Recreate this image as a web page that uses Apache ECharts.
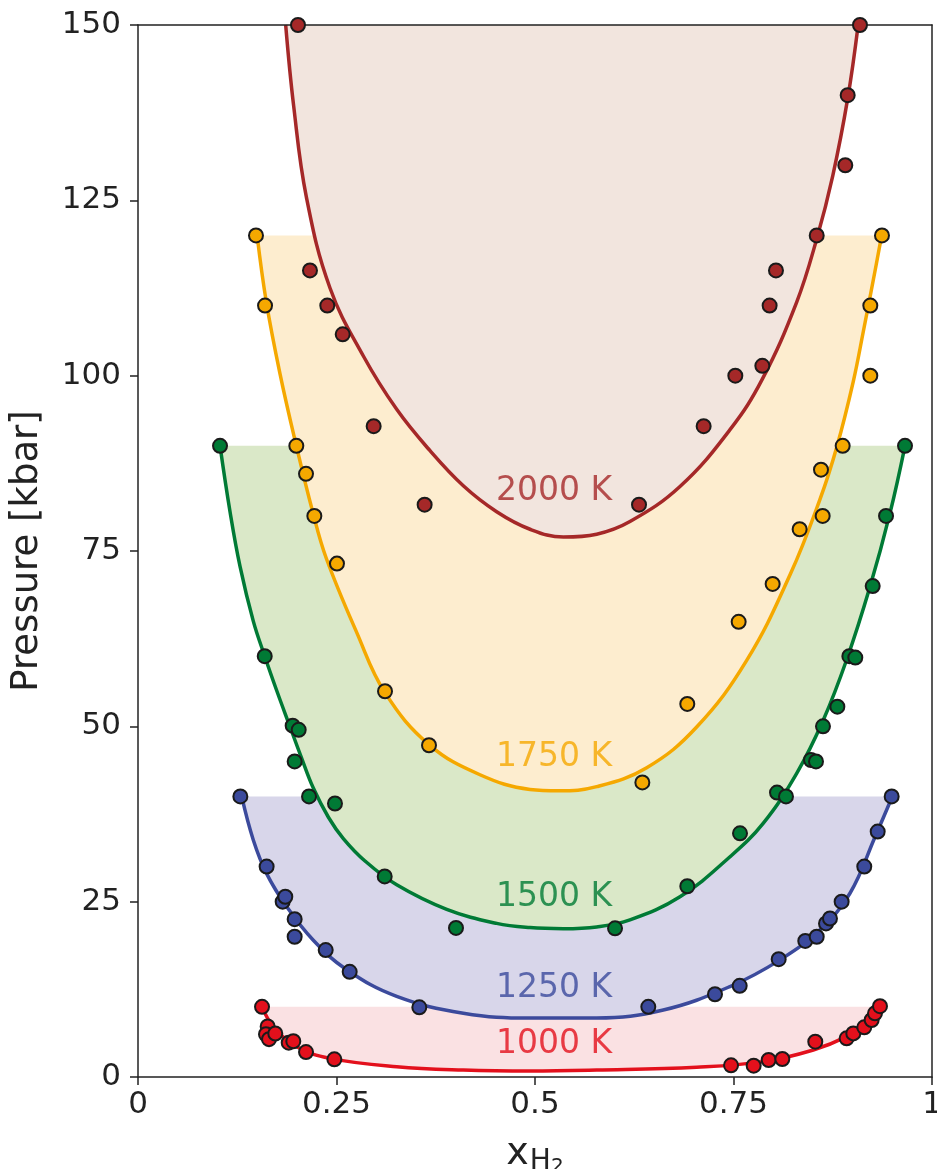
<!DOCTYPE html>
<html>
<head>
<meta charset="utf-8">
<script src="https://cdn.jsdelivr.net/npm/echarts@6/dist/echarts.min.js"></script>
<style>
html,body{margin:0;padding:0;background:#fff;}
#chart{width:937px;height:1169px;}
</style>
</head>
<body>
<div id="chart"></div>
<script>
// ---------- data ----------
const temps = ['1000 K', '1250 K', '1500 K', '1750 K', '2000 K'];
const topPressure = [10, 40, 90, 120, 150];
const labelX = [0.451, 0.451, 0.451, 0.451, 0.451];
const labelP = [4.7, 12.7, 25.6, 45.5, 83.5];
const xTicks = [0, 0.25, 0.5, 0.75, 1];
const yTicks = [0, 25, 50, 75, 100, 125, 150];

// fitted curves
const curve1000x = [0.1562, 0.1704, 0.1999, 0.2418, 0.3258, 0.4097, 0.4937, 0.5777, 0.7036, 0.7876, 0.8505, 0.8925, 0.9177, 0.9345];
const curve1000p = [10, 7.2, 4.3, 2.66, 1.47, 1.0, 0.86, 1.0, 1.4, 2.19, 3.85, 5.75, 7.66, 10];
const curve1250x = [0.1306, 0.1452, 0.162, 0.1872, 0.2208, 0.2628, 0.3258, 0.4097, 0.4937, 0.5777, 0.6616, 0.7456, 0.8086, 0.8589, 0.8967, 0.9285, 0.950];
const curve1250p = [40, 33.8, 29.0, 24.3, 19.5, 15.3, 11.5, 9.1, 8.4, 8.4, 9.55, 12.9, 16.7, 21.0, 26.2, 34.3, 40];
const curve1500x = [0.1033, 0.1159, 0.1285, 0.1452, 0.1596, 0.1750, 0.1906, 0.2050, 0.2208, 0.2400, 0.2586, 0.2859, 0.3258, 0.3888, 0.4517, 0.4937, 0.5357, 0.5777, 0.6196, 0.6826, 0.7456, 0.7876, 0.8296, 0.8631, 0.8925, 0.9219, 0.9471, 0.966];
const curve1500p = [90, 80.6, 72.8, 65.0, 60.0, 55.0, 50.2, 45.8, 41.2, 37.0, 34.0, 30.8, 27.4, 23.9, 21.9, 21.3, 21.15, 21.4, 22.4, 25.7, 31.4, 36.2, 43.3, 50.9, 59.5, 69.9, 80.4, 90];
const curve1750x = [0.150, 0.1616, 0.1788, 0.1994, 0.2200, 0.2370, 0.2754, 0.3111, 0.3665, 0.4307, 0.4937, 0.5300, 0.5777, 0.6407, 0.7036, 0.7666, 0.8212, 0.859, 0.880, 0.9009, 0.9135, 0.926, 0.9366];
const curve1750p = [120, 110.5, 100.3, 90, 80.6, 74.0, 63.4, 54.8, 47.4, 43.1, 41.0, 40.8, 41.4, 44.1, 49.9, 59.4, 71.6, 82.4, 89.8, 99.2, 106.3, 113.6, 120];
const curve2000x = [0.186, 0.196, 0.212, 0.2418, 0.2838, 0.3258, 0.3678, 0.4097, 0.4517, 0.4937, 0.5357, 0.5777, 0.6196, 0.6826, 0.7456, 0.7863, 0.8296, 0.8548, 0.875, 0.8938, 0.907];
const curve2000p = [150, 138.5, 125.5, 112.5, 102.8, 95.2, 89.3, 84.3, 80.6, 78.1, 77.0, 77.4, 79.2, 84.2, 92.3, 99.5, 110.5, 119.5, 128.5, 139.5, 150];

// simulation points
const pts1000x = [0.1562, 0.1633, 0.1612, 0.165, 0.1729, 0.1898, 0.1956, 0.2116, 0.2473, 0.7469, 0.7754, 0.7943, 0.8115, 0.853, 0.8925, 0.9009, 0.9147, 0.924, 0.9282, 0.9345];
const pts1000p = [10.0, 7.2, 6.1, 5.4, 6.2, 4.9, 5.1, 3.56, 2.52, 1.66, 1.61, 2.42, 2.57, 5.04, 5.51, 6.22, 7.08, 8.13, 9.08, 10.1];
const pts1250x = [0.1289, 0.162, 0.1822, 0.1855, 0.1973, 0.1973, 0.2364, 0.2666, 0.3543, 0.6427, 0.7267, 0.7578, 0.8069, 0.8404, 0.8548, 0.8665, 0.8715, 0.8862, 0.9147, 0.9316, 0.9492];
const pts1250p = [40, 30, 25, 25.7, 22.5, 20, 18.1, 15, 9.93, 10, 11.8, 13, 16.8, 19.4, 20, 21.9, 22.6, 25, 30, 35, 40];
const pts1500x = [0.1033, 0.1596, 0.1948, 0.2024, 0.1973, 0.2154, 0.2481, 0.3107, 0.4005, 0.6008, 0.6918, 0.7582, 0.8048, 0.8161, 0.8476, 0.8539, 0.8627, 0.8808, 0.8959, 0.9034, 0.9253, 0.9421, 0.966];
const pts1500p = [90, 60, 50.1, 49.5, 45, 40, 39, 28.6, 21.25, 21.2, 27.2, 34.75, 40.55, 40, 45.2, 45, 50, 52.8, 60, 59.8, 70, 80, 90];
const pts1750x = [0.1486, 0.160, 0.1994, 0.2116, 0.2221, 0.2506, 0.3111, 0.3665, 0.6352, 0.6918, 0.7565, 0.7993, 0.8333, 0.8623, 0.8602, 0.8875, 0.9223, 0.9223, 0.937];
const pts1750p = [120, 110, 90, 86, 80, 73.2, 55, 47.3, 42, 53.2, 64.9, 70.3, 78.1, 80, 86.6, 90, 100, 110, 120];
const pts2000x = [0.2015, 0.2166, 0.2384, 0.2578, 0.2968, 0.361, 0.631, 0.7124, 0.7523, 0.7863, 0.7955, 0.8035, 0.8548, 0.8908, 0.8938, 0.9093];
const pts2000p = [150, 115, 110, 105.9, 92.8, 81.6, 81.6, 92.8, 100, 101.4, 110, 115, 120, 130, 140, 150];

// ---------- styles ----------
const lineColors = ['#e3101c', '#3b4a9c', '#007a35', '#f5a800', '#a52828'];
const fillColors = ['#fae1e3', '#d8d6ea', '#dae8c8', '#fdedcf', '#f2e5de'];

const curvesX = [curve1000x, curve1250x, curve1500x, curve1750x, curve2000x];
const curvesP = [curve1000p, curve1250p, curve1500p, curve1750p, curve2000p];
const ptsX = [pts1000x, pts1250x, pts1500x, pts1750x, pts2000x];
const ptsP = [pts1000p, pts1250p, pts1500p, pts1750p, pts2000p];

const zip = (a, b) => a.map((v, i) => [v, b[i]]);
const FONT = 'DejaVu Sans';

const series = [];
temps.forEach((t, i) => {
  series.push({
    type: 'line',
    name: t + ' fit',
    data: zip(curvesX[i], curvesP[i]),
    smooth: 0.4,
    showSymbol: false,
    symbol: 'none',
    clip: false,
    lineStyle: { color: lineColors[i], width: 3.5 },
    areaStyle: { color: fillColors[i], opacity: 1, origin: topPressure[i] },
    z: 2,
    silent: true
  });
});
temps.forEach((t, i) => {
  series.push({
    type: 'scatter',
    name: t,
    data: zip(ptsX[i], ptsP[i]),
    symbolSize: 14,
    clip: false,
    itemStyle: { color: lineColors[i], borderColor: '#1a1a1a', borderWidth: 2, opacity: 1 },
    z: 30
  });
});
series.push({
  type: 'scatter',
  name: 'labels',
  data: temps.map((t, i) => ({ name: t, value: [labelX[i], labelP[i]],
    label: { color: lineColors[i] } })),
  symbolSize: 0,
  z: 25,
  silent: true,
  label: {
    show: true,
    position: 'inside',
    align: 'left',
    verticalAlign: 'middle',
    formatter: p => p.name,
    fontFamily: FONT,
    fontSize: 33
  }
});

const axisCommon = {
  axisLine: { show: true, onZero: false, lineStyle: { color: '#222', width: 1.5 } },
  splitLine: { show: false },
  z: 10
};

const chart = echarts.init(document.getElementById('chart'), null, { renderer: 'canvas' });
chart.setOption({
  animation: false,
  backgroundColor: '#ffffff',
  grid: { left: 138, right: 5, top: 25, bottom: 92, containLabel: false, outerBoundsMode: 'none' },
  xAxis: [
    Object.assign({}, axisCommon, {
      type: 'value', min: xTicks[0], max: xTicks[xTicks.length - 1], interval: 0.25,
      position: 'bottom',
      axisTick: { show: true, inside: false, length: 8, lineStyle: { color: '#222', width: 1.5 } },
      axisLabel: { fontFamily: FONT, fontSize: 31, color: '#222', margin: 12,
        formatter: v => String(v) },
      name: '{x|x}{h|H}{t|2}',
      nameLocation: 'middle',
      nameGap: 58,
      nameTextStyle: {
        rich: {
          x: { fontFamily: FONT, fontSize: 38, color: '#222', verticalAlign: 'top', lineHeight: 44 },
          h: { fontFamily: FONT, fontSize: 28, color: '#222', verticalAlign: 'top', lineHeight: 44, padding: [13, 0, 0, 1] },
          t: { fontFamily: FONT, fontSize: 20, color: '#222', verticalAlign: 'top', lineHeight: 44, padding: [22, 0, 0, 0] }
        }
      }
    }),
    Object.assign({}, axisCommon, {
      type: 'value', min: 0, max: 1, position: 'top',
      axisTick: { show: false }, axisLabel: { show: false }
    })
  ],
  yAxis: [
    Object.assign({}, axisCommon, {
      type: 'value', min: yTicks[0], max: yTicks[yTicks.length - 1], interval: 25,
      position: 'left',
      axisTick: { show: true, inside: false, length: 8, lineStyle: { color: '#222', width: 1.5 } },
      axisLabel: { fontFamily: FONT, fontSize: 31, color: '#222', margin: 17 },
      name: 'Pressure [kbar]',
      nameLocation: 'middle',
      nameGap: 92,
      nameTextStyle: { fontFamily: FONT, fontSize: 37, color: '#222' }
    }),
    Object.assign({}, axisCommon, {
      type: 'value', min: 0, max: 150, position: 'right',
      axisTick: { show: false }, axisLabel: { show: false }
    })
  ],
  series: series
});
</script>
</body>
</html>
